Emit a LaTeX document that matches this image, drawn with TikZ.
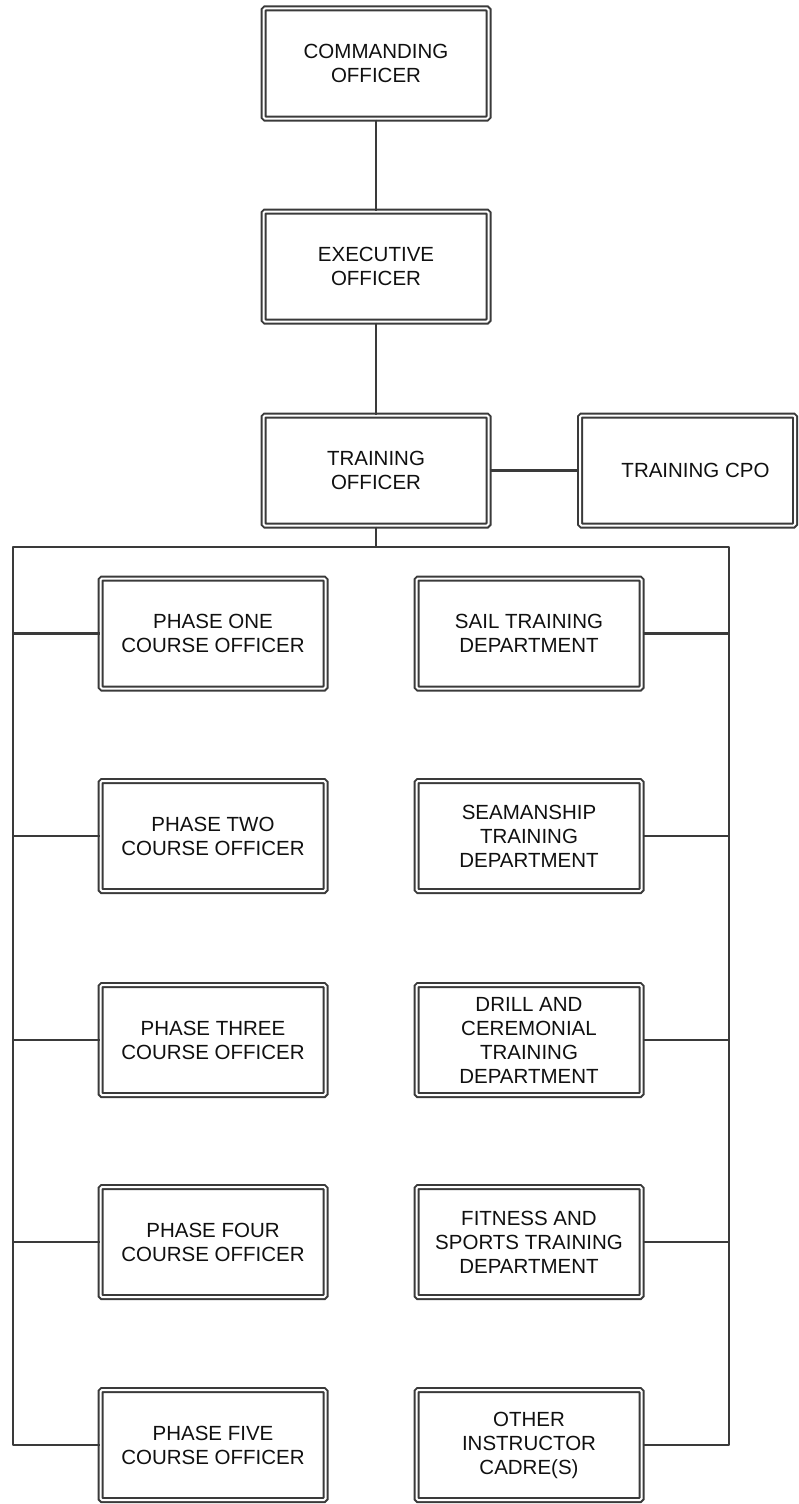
\documentclass[tikz,border=0pt]{standalone}
\usepackage{fontspec}
\setmainfont{Liberation Sans}
\definecolor{boxline}{HTML}{3A3A3A}
\definecolor{txt}{HTML}{101010}
\tikzset{
  orgbox/.style={draw=boxline, double=white, double distance=2pt, line width=2pt,
    rounded corners=1.5pt, minimum width=225pt, minimum height=110pt, inner sep=0pt,
    align=center, text=txt, font=\fontsize{20.5}{24}\selectfont},
  link/.style={draw=boxline, line width=2.2pt}
}
\begin{document}
\begin{tikzpicture}[x=1pt,y=-1pt]
\useasboundingbox (0,0) rectangle (799,1504);
\node[orgbox] (co) at (376,63.5) {COMMANDING\\OFFICER};
\node[orgbox] (eo) at (376,266.5) {EXECUTIVE\\OFFICER};
\node[orgbox] (to) at (376,470.5) {TRAINING\\OFFICER};
\node[orgbox, minimum width=215pt] (cpo) at (687.5,470.5) {\hspace*{16pt}TRAINING CPO};
\node[orgbox] (p1) at (213,633.5) {PHASE ONE\\COURSE OFFICER};
\node[orgbox] (p2) at (213,836) {PHASE TWO\\COURSE OFFICER};
\node[orgbox] (p3) at (213,1040) {PHASE THREE\\COURSE OFFICER};
\node[orgbox] (p4) at (213,1242) {PHASE FOUR\\COURSE OFFICER};
\node[orgbox] (p5) at (213,1445) {PHASE FIVE\\COURSE OFFICER};
\node[orgbox] (d1) at (529,633.5) {SAIL TRAINING\\DEPARTMENT};
\node[orgbox] (d2) at (529,836) {SEAMANSHIP\\TRAINING\\DEPARTMENT};
\node[orgbox] (d3) at (529,1040) {DRILL AND\\CEREMONIAL\\TRAINING\\DEPARTMENT};
\node[orgbox] (d4) at (529,1242) {FITNESS AND\\SPORTS TRAINING\\DEPARTMENT};
\node[orgbox] (d5) at (529,1445) {OTHER\\INSTRUCTOR\\CADRE(S)};
\coordinate (bus) at (376,547);
\coordinate (bl) at (13,547);
\coordinate (br) at (729,547);
\draw[link] (co) -- (eo);
\draw[link] (eo) -- (to);
\draw[link] (to) -- (cpo);
\draw[link] (to.south) -- (bus);
\draw[link, line join=round] (d5.east) -| (br) -- (bl) |- (p5.west);
\draw[link] (p1.west) -- (p1.west -| bl);
\draw[link] (p2.west) -- (p2.west -| bl);
\draw[link] (p3.west) -- (p3.west -| bl);
\draw[link] (p4.west) -- (p4.west -| bl);
\draw[link] (d1.east) -- (d1.east -| br);
\draw[link] (d2.east) -- (d2.east -| br);
\draw[link] (d3.east) -- (d3.east -| br);
\draw[link] (d4.east) -- (d4.east -| br);
\end{tikzpicture}
\end{document}
